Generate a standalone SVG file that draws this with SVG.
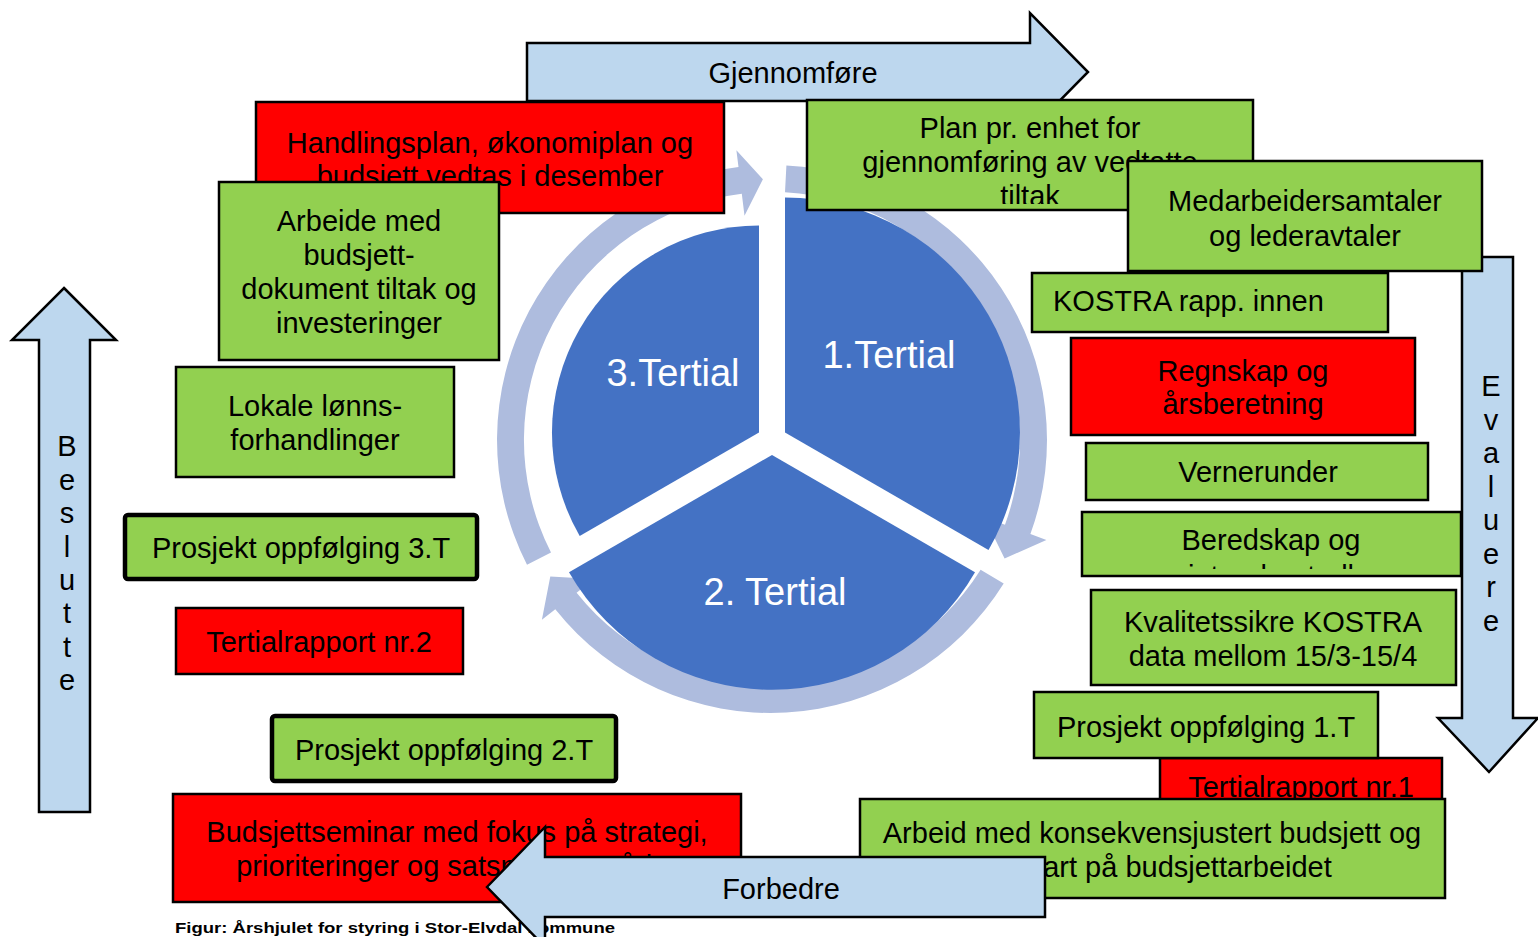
<svg xmlns="http://www.w3.org/2000/svg" width="1538" height="937" viewBox="0 0 1538 937">
<style>
.bg{fill:#ffffff}
.g{fill:#92D050;stroke:#000;stroke-width:2.5}
.gt{fill:#92D050;stroke:#000;stroke-width:4.5}
.r{fill:#FF0000;stroke:#000;stroke-width:2.5}
.a{fill:#BDD7EE;stroke:#000;stroke-width:2.5;stroke-linejoin:miter}
.ring{fill:#AEBCDE}
.pie{fill:#4472C4}
text{font-family:"Liberation Sans",Arial,sans-serif;font-size:29px;fill:#000}
.c{text-anchor:middle}
.w{fill:#fff;font-size:38px;text-anchor:middle}
.cap{font-weight:bold;font-size:15px}
</style>
<defs>
<clipPath id="clipPlan"><rect x="806" y="99" width="448" height="105"/></clipPath>
<clipPath id="clipBered"><rect x="1081" y="511" width="381" height="58"/></clipPath>
</defs>
<rect class="bg" x="0" y="0" width="1538" height="937"/>

<g id="connectors">
<path class="ring" d="M786.4,165.4 A275,275 0 0 1 1030.4,534.1 L1046.4,539.9 L1004.6,558.5 L984.4,517.3 L1005.0,524.8 A248,248 0 0 0 785.0,192.3 Z"/>
<path class="ring" d="M1003.7,583.6 A275,275 0 0 1 555.3,609.3 L541.9,619.8 L550.3,576.4 L593.9,579.1 L576.6,592.7 A248,248 0 0 0 980.6,569.7 Z"/>
<path class="ring" d="M527.0,564.8 A275,275 0 0 1 738.5,167.0 L736.4,150.2 L762.9,179.2 L744.5,215.7 L741.8,193.8 A248,248 0 0 0 551.0,552.6 Z"/>
</g>

<g id="tertial1">
<path class="pie" d="M785,432.5 L785,197.5 A235,235 0 0 1 988.5,550 Z"/>
<text class="w" x="889" y="368">1.Tertial</text>
</g>
<g id="tertial2">
<path class="pie" d="M772,455 L975,572.2 A234,234 0 0 1 569,572.2 Z"/>
<text class="w" x="775" y="605">2. Tertial</text>
</g>
<g id="tertial3">
<path class="pie" d="M759,432.5 L579.7,536 A207,207 0 0 1 759,225.5 Z"/>
<text class="w" x="673" y="386">3.Tertial</text>
</g>

<g id="gjennomfore">
<polygon class="a" points="527,43 1030,43 1030,13 1088,72 1030,131 1030,101 527,101"/>
<text class="c" x="793" y="83">Gjennomføre</text>
</g>

<g id="handlingsplan">
<rect class="r" x="256" y="102" width="468" height="111"/>
<text class="c" x="490" y="153">Handlingsplan, økonomiplan og</text>
<text class="c" x="490" y="186">budsjett vedtas i desember</text>
</g>

<g id="plan">
<rect class="g" x="807" y="100" width="446" height="110"/>
<g clip-path="url(#clipPlan)">
<text class="c" x="1030" y="138">Plan pr. enhet for</text>
<text class="c" x="1030" y="172">gjennomføring av vedtatte</text>
<text class="c" x="1030" y="206">tiltak</text>
</g>
</g>

<g id="evaluere">
<polygon class="a" points="1462,257 1513,257 1513,718 1538,718 1489,772 1438,718 1462,718"/>
<text class="c" x="1491" y="396">E</text>
<text class="c" x="1491" y="430">v</text>
<text class="c" x="1491" y="463">a</text>
<text class="c" x="1491" y="497">l</text>
<text class="c" x="1491" y="530">u</text>
<text class="c" x="1491" y="564">e</text>
<text class="c" x="1491" y="597">r</text>
<text class="c" x="1491" y="631">e</text>
</g>

<g id="medarbeider">
<rect class="g" x="1128" y="161" width="354" height="110"/>
<text class="c" x="1305" y="211">Medarbeidersamtaler</text>
<text class="c" x="1305" y="246">og lederavtaler</text>
</g>

<g id="kostra">
<rect class="g" x="1032" y="273" width="356" height="59"/>
<text x="1053" y="311">KOSTRA rapp. innen</text>
</g>

<g id="regnskap">
<rect class="r" x="1071" y="338" width="344" height="97"/>
<text class="c" x="1243" y="381">Regnskap og</text>
<text class="c" x="1243" y="414">årsberetning</text>
</g>

<g id="vernerunder">
<rect class="g" x="1086" y="443" width="342" height="57"/>
<text class="c" x="1258" y="482">Vernerunder</text>
</g>

<g id="beredskap">
<rect class="g" x="1082" y="512" width="379" height="64"/>
<g clip-path="url(#clipBered)">
<text class="c" x="1271" y="550">Beredskap og</text>
<text class="c" x="1271" y="586">internkontroll</text>
</g>
</g>

<g id="kvalitet">
<rect class="g" x="1091" y="590" width="365" height="95"/>
<text class="c" x="1273" y="632">Kvalitetssikre KOSTRA</text>
<text class="c" x="1273" y="666">data mellom 15/3-15/4</text>
</g>

<g id="tertialrapport1">
<rect class="r" x="1160" y="758" width="282" height="60"/>
<text class="c" x="1301" y="797">Tertialrapport nr.1</text>
</g>

<g id="prosjekt1">
<rect class="g" x="1034" y="692" width="344" height="66"/>
<text class="c" x="1206" y="737">Prosjekt oppfølging 1.T</text>
</g>

<g id="arbeid">
<rect class="g" x="860" y="799" width="585" height="99"/>
<text class="c" x="1152" y="843">Arbeid med konsekvensjustert budsjett og</text>
<text class="c" x="1152" y="877">oppstart på budsjettarbeidet</text>
</g>

<g id="arbeide">
<rect class="g" x="219" y="182" width="280" height="178"/>
<text class="c" x="359" y="231">Arbeide med</text>
<text class="c" x="359" y="265">budsjett-</text>
<text class="c" x="359" y="299">dokument tiltak og</text>
<text class="c" x="359" y="333">investeringer</text>
</g>

<g id="lokale">
<rect class="g" x="176" y="367" width="278" height="110"/>
<text class="c" x="315" y="416">Lokale lønns-</text>
<text class="c" x="315" y="450">forhandlinger</text>
</g>

<g id="prosjekt3">
<rect class="gt" x="125" y="515" width="352" height="64" rx="3"/>
<text class="c" x="301" y="558">Prosjekt oppfølging 3.T</text>
</g>

<g id="tertialrapport2">
<rect class="r" x="176" y="608" width="287" height="66"/>
<text class="c" x="319" y="652">Tertialrapport nr.2</text>
</g>

<g id="prosjekt2">
<rect class="gt" x="272" y="716" width="344" height="65" rx="3"/>
<text class="c" x="444" y="760">Prosjekt oppfølging 2.T</text>
</g>

<g id="budsjettseminar">
<rect class="r" x="173" y="794" width="568" height="108"/>
<text class="c" x="457" y="842">Budsjettseminar med fokus på strategi,</text>
<text class="c" x="457" y="876">prioriteringer og satsningsområder</text>
</g>

<g id="beslutte">
<polygon class="a" points="64,288 116,340 90,340 90,812 39,812 39,340 12,340"/>
<text class="c" x="67" y="456">B</text>
<text class="c" x="67" y="490">e</text>
<text class="c" x="67" y="523">s</text>
<text class="c" x="67" y="557">l</text>
<text class="c" x="67" y="590">u</text>
<text class="c" x="67" y="623">t</text>
<text class="c" x="67" y="657">t</text>
<text class="c" x="67" y="690">e</text>
</g>

<g id="caption">
<text class="cap" x="175" y="933" textLength="440" lengthAdjust="spacingAndGlyphs">Figur: Årshjulet for styring i Stor-Elvdal kommune</text>
</g>

<g id="forbedre">
<polygon class="a" points="487,887 545,827 545,857 1045,857 1045,917 545,917 545,947"/>
<text class="c" x="781" y="899">Forbedre</text>
</g>
</svg>
